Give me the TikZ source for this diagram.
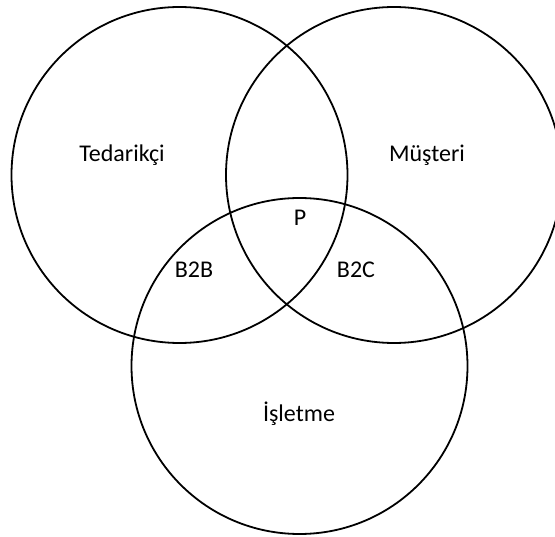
\documentclass[tikz,border=0pt]{standalone}
\usepackage{fontspec}
\setmainfont{Carlito}
\begin{document}
\begin{tikzpicture}[x=1pt,y=-1pt,
  venn/.style={draw=black,line width=1.8pt,circle,minimum size=336pt,inner sep=0pt},
  lbl/.style={font=\fontsize{24}{28}\selectfont,inner sep=0pt}]
\useasboundingbox (0,0) rectangle (555,537);
\node[venn] (ted) at (179.5,175) {};
\node[venn] (mus) at (394,175) {};
\node[venn] (isl) at (299.5,366) {};
\node[lbl] (tedt) at (122,155) {Tedarikçi};
\node[lbl] (must) at (427,155) {Müşteri};
\node[lbl] (p) at (300,218) {P};
\node[lbl] (b2b) at (194,270) {B2B};
\node[lbl] (b2c) at (356,270) {B2C};
\node[lbl] (islt) at (299,414) {İşletme};
\end{tikzpicture}
\end{document}
